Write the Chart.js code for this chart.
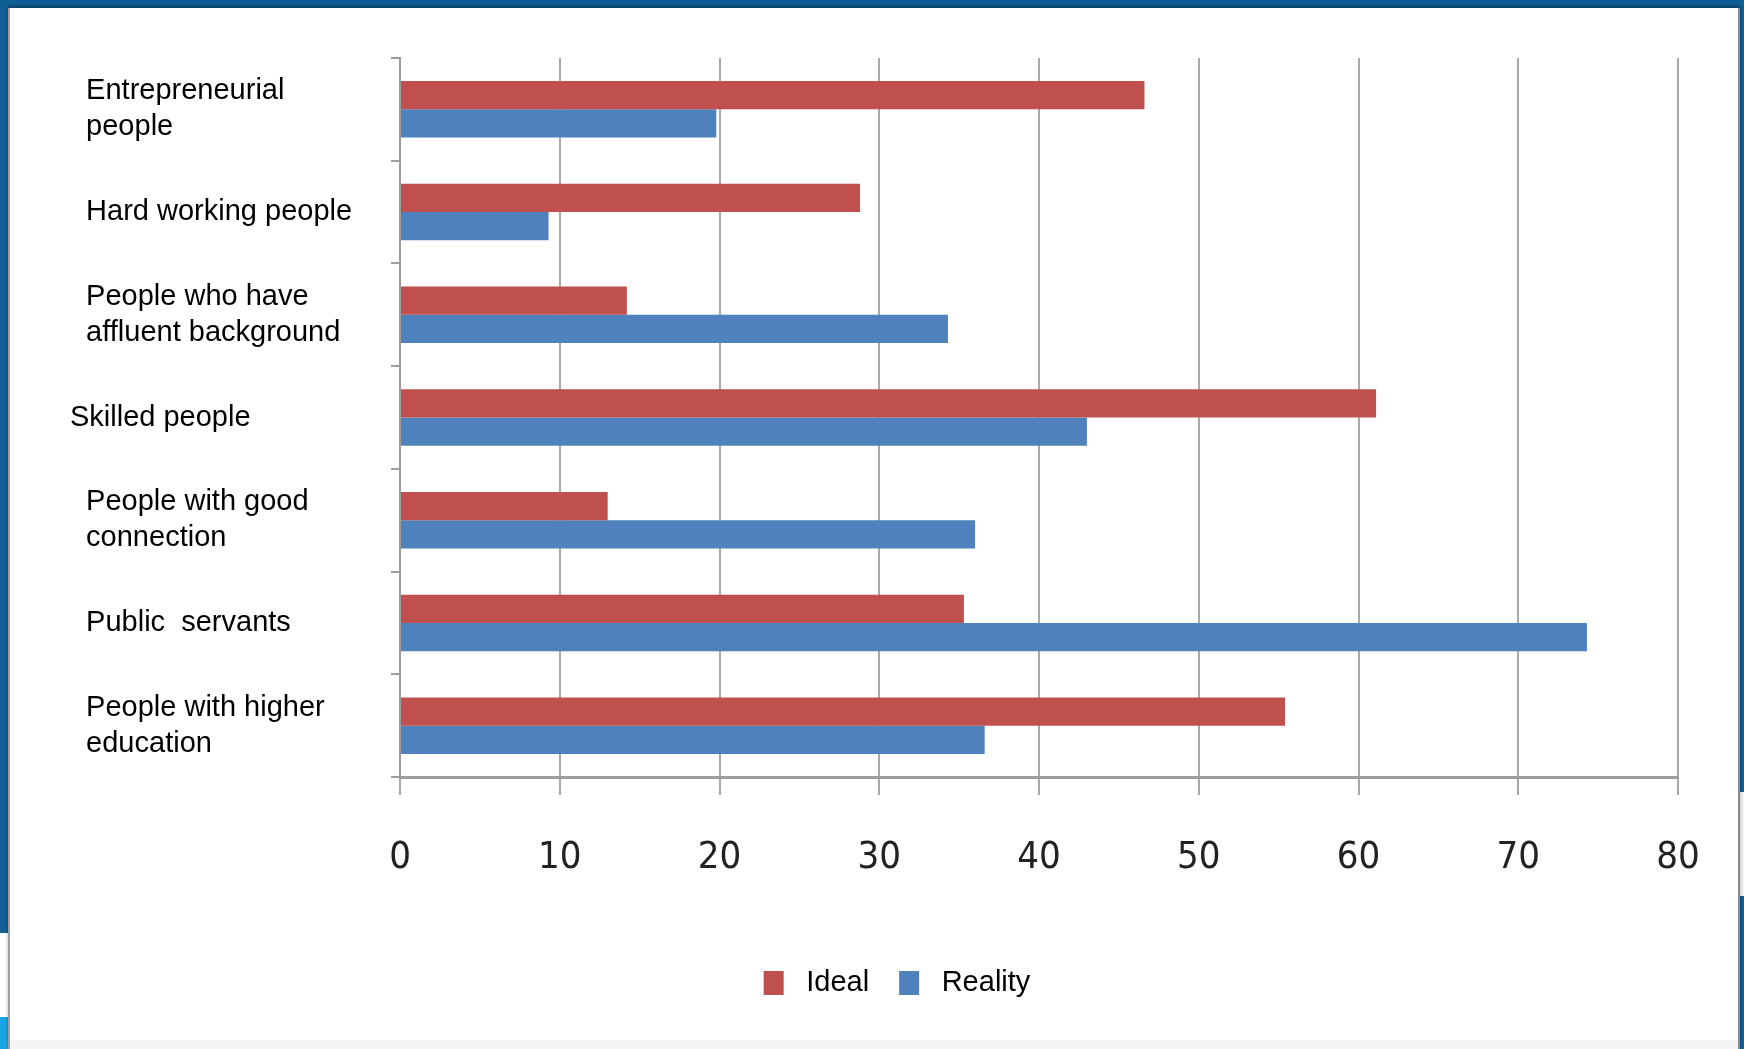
<!DOCTYPE html>
<html>
<head>
<meta charset="utf-8">
<title>Ideal vs Reality</title>
<script src="https://cdn.jsdelivr.net/npm/chart.js@4.4.1/dist/chart.umd.min.js"></script>
<style>
  html, body { margin: 0; padding: 0; }
  body {
    width: 1744px;
    height: 1049px;
    background: #0f5f94;
    position: relative;
    overflow: hidden;
  }
  .edge-white { position: absolute; left: 0; top: 933px; width: 8px; height: 84px; background: #fff; }
  .edge-cyan { position: absolute; left: 0; top: 1017px; width: 8px; height: 32px; background: #17a6e3; }
  .edge-right { position: absolute; left: 1740px; top: 792px; width: 4px; height: 104px; background: #f2f2f2; }
  .panel {
    position: absolute;
    left: 8px;
    top: 8px;
    width: 1732px;
    height: 1041px;
    background: #fff;
    border-left: 2px solid #a0a0a0;
    border-right: 2px solid #8c8c8c;
    box-sizing: border-box;
    box-shadow: 0 -2px 3px rgba(0, 0, 0, 0.35);
  }
  .panel-foot { position: absolute; left: 10px; top: 1040px; width: 1728px; height: 9px; background: #f3f3f3; }
  .wrap { position: absolute; left: 0; top: 0; width: 1744px; height: 1049px; }
</style>
</head>
<body>
<div class="edge-white"></div>
<div class="edge-cyan"></div>
<div class="edge-right"></div>
<div class="panel"></div>
<div class="panel-foot"></div>
<div class="wrap"><canvas id="chart"></canvas></div>

<script>
// survey groups, top to bottom
const categories = [
  ["  Entrepreneurial", "  people"],
  "  Hard working people",
  ["  People who have", "  affluent background"],
  "Skilled people",
  ["  People with good", "  connection"],
  "  Public  servants",
  ["  People with higher", "  education"]
];

const idealValues = [46.6, 28.8, 14.2, 61.1, 13.0, 35.3, 55.4];
const realityValues = [19.8, 9.3, 34.3, 43.0, 36.0, 74.3, 36.6];

const xTicks = [0, 10, 20, 30, 40, 50, 60, 70, 80];

const RED = "#c0504d";
const BLUE = "#4f81bd";
const GRID = "#a8a8a8";
const labelLeft = 70;

Chart.defaults.font.family = '"Liberation Sans", Arial, sans-serif';

// category labels start further left than the axis box
const labelShift = {
  id: "labelShift",
  afterLayout(chart) {
    chart.scales.y.left = labelLeft;
  }
};

const ctx = document.getElementById("chart").getContext("2d");

new Chart(ctx, {
  type: "bar",
  data: {
    labels: categories,
    datasets: [
      {
        label: "Ideal",
        data: idealValues,
        backgroundColor: RED,
        borderWidth: 0,
        categoryPercentage: 0.55,
        barPercentage: 1.0
      },
      {
        label: "Reality",
        data: realityValues,
        backgroundColor: BLUE,
        borderWidth: 0,
        categoryPercentage: 0.55,
        barPercentage: 1.0
      }
    ]
  },
  options: {
    indexAxis: "y",
    responsive: true,
    maintainAspectRatio: false,
    animation: false,
    layout: {
      padding: { top: 58, left: 116, right: 66, bottom: 41.5 }
    },
    scales: {
      x: {
        min: 0,
        max: 80,
        afterBuildTicks: (scale) => {
          scale.ticks = xTicks.map((v) => ({ value: v }));
        },
        afterFit: (scale) => {
          scale.height = 161.5;
        },
        grid: {
          color: GRID,
          lineWidth: 2,
          tickLength: 18
        },
        border: { color: "#9c9c9c", width: 3 },
        ticks: {
          color: "#222",
          padding: 40,
          font: { family: '"DejaVu Sans Condensed", sans-serif', size: 38 }
        }
      },
      y: {
        afterFit: (scale) => {
          scale.width = 284;
        },
        grid: {
          drawOnChartArea: false,
          color: "#9c9c9c",
          lineWidth: 2,
          tickLength: 9
        },
        border: { color: "#9c9c9c", width: 2 },
        ticks: {
          crossAlign: "far",
          color: "#000",
          padding: 0,
          font: { size: 29, lineHeight: 1.25 }
        }
      }
    },
    plugins: {
      legend: {
        position: "bottom",
        labels: {
          boxWidth: 20,
          boxHeight: 24,
          padding: 30,
          color: "#000",
          font: { size: 29 },
          generateLabels: (chart) =>
            Chart.defaults.plugins.legend.labels.generateLabels(chart)
              .map((item) => ({ ...item, text: " " + item.text }))
        }
      },
      tooltip: { enabled: false }
    }
  },
  plugins: [labelShift]
});
</script>
</body>
</html>
